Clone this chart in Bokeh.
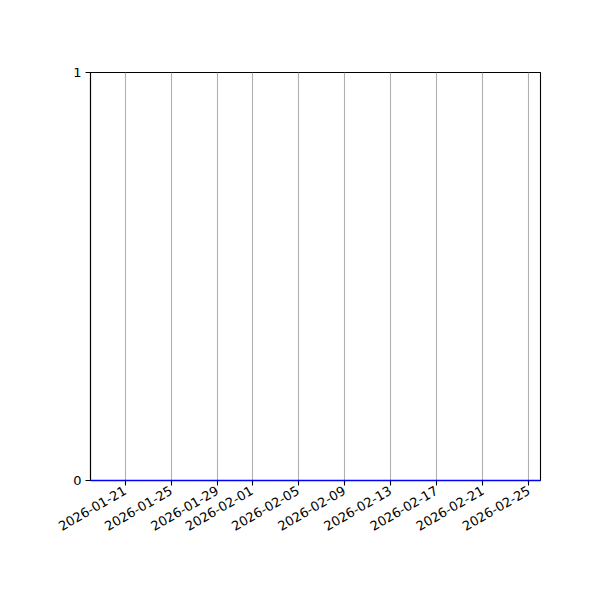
import math
from datetime import datetime
from bokeh.plotting import figure
from bokeh.models import Range1d, DaysTicker, FixedTicker, DatetimeTickFormatter
from bokeh.embed import file_html
from bokeh.resources import INLINE

# Data
dates = ["2026-01-18", "2026-01-25", "2026-02-01", "2026-02-08", "2026-02-15", "2026-02-22", "2026-02-26"]
values = [0, 0, 0, 0, 0, 0, 0]
x_start = "2026-01-18"
x_end = "2026-02-26"
y_ticks = [0, 1]
tick_days = [1, 5, 9, 13, 17, 21, 25, 29]

xs = [datetime.strptime(d, "%Y-%m-%d") for d in dates]

p = figure(width=592, height=592, x_axis_type="datetime",
           output_backend="svg", toolbar_location=None,
           x_range=Range1d(datetime.strptime(x_start, "%Y-%m-%d"), datetime.strptime(x_end, "%Y-%m-%d")),
           y_range=Range1d(0, 1))
p.min_border_left = 90
p.min_border_right = 52
p.min_border_top = 72
p.min_border_bottom = 112
p.background_fill_color = "white"
p.border_fill_color = "white"
p.outline_line_color = "black"
p.outline_line_width = 1.1
p.outline_line_alpha = 1

p.line(xs, values, line_color="blue", line_width=1.5, level="overlay")

p.xaxis.ticker = DaysTicker(days=tick_days)
fmt = "%Y-%m-%d"
p.xaxis.formatter = DatetimeTickFormatter(days=fmt, months=fmt, years=fmt, hours=fmt,
                                          hourmin=fmt, minutes=fmt, seconds=fmt,
                                          minsec=fmt, milliseconds=fmt, microseconds=fmt)
p.xaxis.major_label_orientation = math.pi / 6
p.yaxis.ticker = FixedTicker(ticks=y_ticks)

for ax in (p.xaxis, p.yaxis):
    ax.axis_line_color = "black"
    ax.axis_line_width = 1.1
    ax.major_tick_line_color = "black"
    ax.major_tick_line_width = 1.1
    ax.major_tick_out = 5
    ax.major_tick_in = 0
    ax.minor_tick_line_color = None
    ax.major_label_text_font = "DejaVu Sans"
    ax.major_label_text_font_size = "13px"
    ax.major_label_text_color = "black"
    ax.major_label_standoff = 4
p.xaxis.major_label_standoff = 4
p.xaxis.major_label_text_align = "right"
p.xaxis.major_label_text_baseline = "top"

p.xgrid.grid_line_color = "#b0b0b0"
p.xgrid.grid_line_width = 1.1
p.ygrid.grid_line_color = None

open("out.html", "w").write(file_html(p, INLINE))
